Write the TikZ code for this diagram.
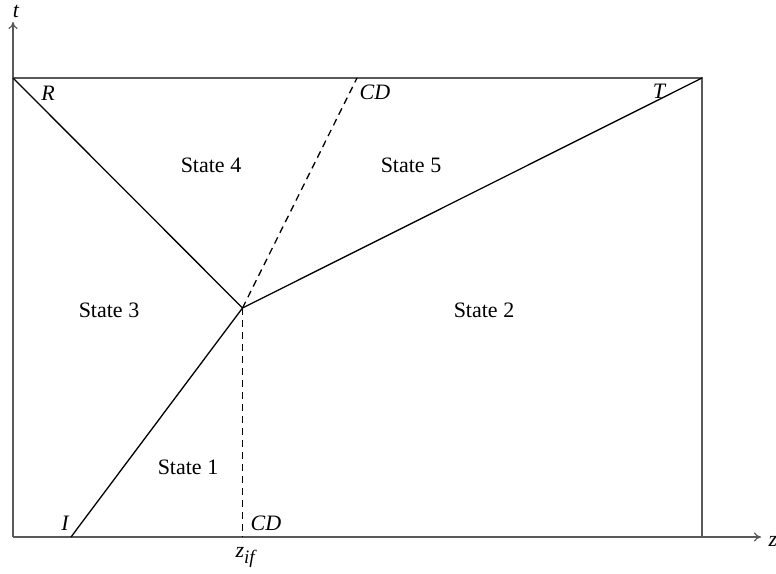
\documentclass[tikz,border=0pt]{standalone}
\usepackage{fontspec}
\setmainfont{Liberation Serif}
\usetikzlibrary{arrows.meta}
\begin{document}
\begin{tikzpicture}[x=1pt,y=-1pt,
  frame/.style={draw=black!65,line width=1.2pt},
  wave/.style={draw=black,line width=1.3pt},
  cdline/.style={draw=black,line width=1.3pt,dash pattern=on 7pt off 5pt},
  axis/.style={draw=black!65,line width=1.2pt,-{To[length=7pt,width=9pt]}},
  lab/.style={font=\fontsize{22}{26}\selectfont},
  ilab/.style={font=\fontsize{22}{26}\selectfont\itshape}]
\useasboundingbox (0,0) rectangle (776,573);
\coordinate (O) at (13,537);
\coordinate (TL) at (13,78);
\coordinate (TR) at (702,78);
\coordinate (BR) at (702,537);
\coordinate (P) at (242.5,308);
\coordinate (Ib) at (71,537);
\coordinate (CDt) at (357,78);
\coordinate (CDb) at (242.5,537);
\coordinate (tend) at (13,22);
\coordinate (zend) at (761,537);
\draw[axis] (O) -- (tend);
\draw[axis] (O) -- (zend);
\draw[frame] (TL) -- (TR) -- (BR);
\draw[wave] (Ib) -- (P);
\draw[wave] (TL) -- (P);
\draw[wave] (P) -- (TR);
\draw[cdline] (P) -- (CDt);
\draw[cdline] (P) -- (CDb);
\node[ilab] (tl) at (16,11) {t};
\node[ilab] (zl) at (773,541) {z};
\node[ilab] (R) at (48,93) {R};
\node[ilab] (CD1) at (375,92) {CD};
\node[ilab] (T) at (659,91) {T};
\node[ilab] (I) at (65,523) {I};
\node[ilab] (CD2) at (266,523) {CD};
\node[ilab,anchor=base west] (zif) at (232,557) {z\raisebox{-6pt}{\fontsize{19}{22}\selectfont if}};
\node[lab] (s1) at (188,467) {State 1};
\node[lab] (s2) at (484,310) {State 2};
\node[lab] (s3) at (109,310) {State 3};
\node[lab] (s4) at (211,165) {State 4};
\node[lab] (s5) at (411,165) {State 5};
\end{tikzpicture}
\end{document}
